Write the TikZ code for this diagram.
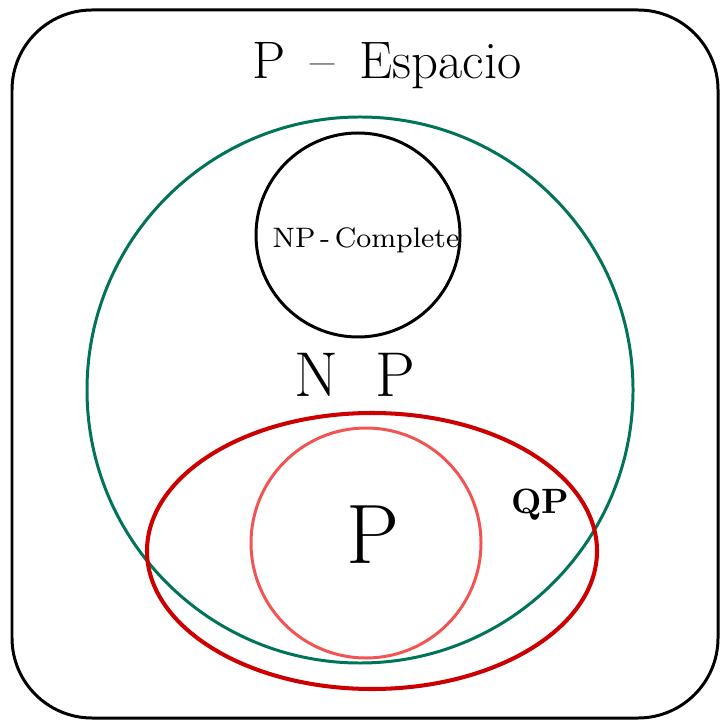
\documentclass[tikz,border=0pt]{standalone}
\usetikzlibrary{calc}
\definecolor{NPClr}{rgb}{0,0.45,0.35}
\definecolor{QPClr}{rgb}{0.8,0,0}
\definecolor{PClr}{rgb}{0.95,0.33,0.33}

\begin{document}
\begin{tikzpicture}[x=0.01cm,y=-0.01cm,
  set/.style={line width=0.85pt},
  lbl/.style={inner sep=0pt}]
\useasboundingbox (0,0) rectangle (720,722);

% espacio
\draw[set,rounded corners=0.8cm] (12,10) rectangle (718,718);
\node[lbl,font=\fontsize{15}{17}\selectfont] (espacio) at (387,66) {P\, -- \,Espacio};

% NP y NP-completo
\draw[set,color=NPClr] (360,390) circle (273);
\draw[set] (358,235) circle (102);
\node[lbl,font=\fontsize{8}{10}\selectfont] (npc) at (366,240) {NP\,-\,Complete};
\node[lbl,font=\fontsize{18}{20}\selectfont] (np) at (355,375) {N\; P};

% QP y P
\draw[line width=1.15pt,color=QPClr] (372,551) ellipse (225 and 138);
\draw[set,color=PClr] (366,543) circle (115);
\node[lbl,font=\fontsize{24}{26}\selectfont] (p) at (373,535) {P};
\node[lbl,font=\fontsize{10}{12}\selectfont\bfseries] (qp) at (540,505) {QP};

\end{tikzpicture}
\end{document}
